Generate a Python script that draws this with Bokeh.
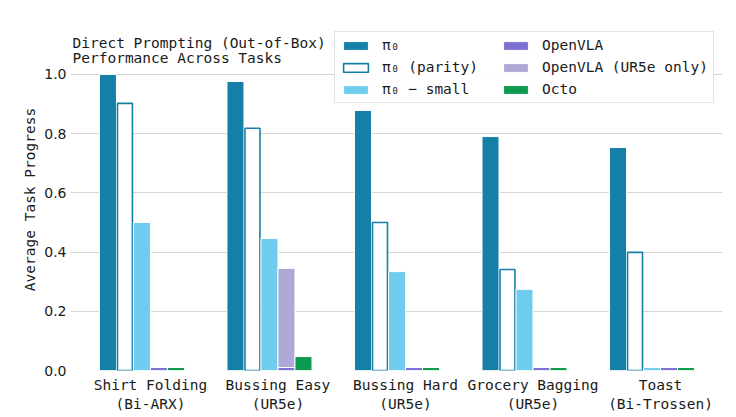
from bokeh.plotting import figure
from bokeh.models import ColumnDataSource, Range1d, FixedTicker, Legend, LegendItem, Label
from bokeh.transform import dodge
from bokeh.embed import file_html
from bokeh.resources import INLINE

# ---- data ----
tasks = ["Shirt Folding\n(Bi-ARX)", "Bussing Easy\n(UR5e)", "Bussing Hard\n(UR5e)",
         "Grocery Bagging\n(UR5e)", "Toast\n(Bi-Trossen)"]
pi0 = [1.0, 0.976, 0.878, 0.79, 0.753]
pi0_parity = [0.902, 0.818, 0.5, 0.341, 0.399]
pi0_small = [0.5, 0.446, 0.334, 0.274, 0.01]
openvla = [0.01, 0.01, 0.01, 0.01, 0.01]
openvla_ur5e = [float("nan"), 0.345, float("nan"), float("nan"), float("nan")]
octo = [0.01, 0.047, 0.01, 0.01, 0.01]
y_ticks = [0.0, 0.2, 0.4, 0.6, 0.8, 1.0]
title_lines = ["Direct Prompting (Out-of-Box)", "Performance Across Tasks"]

C_PI0 = "#167fa6"
C_SMALL = "#6ecdef"
C_OVLA = "#7b6fd3"
C_OVLA_UR = "#aea8d6"
C_OCTO = "#0b9a4f"

MONO = "DejaVu Sans Mono"
SANS = "DejaVu Sans"
FS = "14.5px"

src = ColumnDataSource(dict(
    x=list(range(len(tasks))), pi0=pi0, parity=pi0_parity, small=pi0_small,
    ovla=openvla, ovla_ur=openvla_ur5e, octo=octo))

W = 0.8 / 6

p = figure(width=736, height=417, output_backend="svg", toolbar_location=None,
           x_range=Range1d(-0.627, 4.486), y_range=Range1d(0, 1.155),
           min_border_left=70, min_border_right=14, min_border_top=28, min_border_bottom=47)
p.outline_line_color = None
p.background_fill_color = "white"
p.border_fill_color = "white"

r_pi0 = p.vbar(x=dodge("x", -2.5 * W), top="pi0", width=W, source=src,
               fill_color=C_PI0, line_color="white", line_width=1)
r_par = p.vbar(x=dodge("x", -1.5 * W), top="parity", width=W * 0.88, source=src,
               fill_color="white", line_color=C_PI0, line_width=1.6)
r_small = p.vbar(x=dodge("x", -0.5 * W), top="small", width=W, source=src,
                 fill_color=C_SMALL, line_color="white", line_width=1)
r_ovla_ur = p.vbar(x=dodge("x", 0.5 * W), top="ovla_ur", width=W, source=src,
                   fill_color=C_OVLA_UR, line_color="white", line_width=1)
r_ovla = p.vbar(x=dodge("x", 0.5 * W), top="ovla", width=W, source=src,
                fill_color=C_OVLA, line_color="white", line_width=1)
r_octo = p.vbar(x=dodge("x", 1.5 * W), top="octo", width=W, source=src,
                fill_color=C_OCTO, line_color="white", line_width=1)

# axes
p.xaxis.ticker = FixedTicker(ticks=list(range(len(tasks))))
p.xaxis.major_label_overrides = {i: t for i, t in enumerate(tasks)}
p.xaxis.major_label_text_font = MONO
p.xaxis.major_label_text_font_size = FS
p.xaxis.major_label_text_color = "#1a1a1a"
p.xaxis.axis_line_color = None
p.xaxis.major_tick_line_color = None
p.xaxis.minor_tick_line_color = None
p.xaxis.major_tick_out = 0
p.xaxis.major_tick_in = 0
p.xaxis.major_label_standoff = 6

p.yaxis.ticker = FixedTicker(ticks=y_ticks)
p.yaxis.major_label_overrides = {v: f"{v:.1f}" for v in y_ticks}
p.yaxis.major_label_text_font = SANS
p.yaxis.major_label_text_font_size = "14px"
p.yaxis.major_label_text_color = "#1a1a1a"
p.yaxis.axis_line_color = None
p.yaxis.major_tick_line_color = None
p.yaxis.minor_tick_line_color = None
p.yaxis.major_tick_out = 0
p.yaxis.major_tick_in = 0
p.yaxis.axis_label = "Average Task Progress"
p.yaxis.axis_label_text_font = MONO
p.yaxis.axis_label_text_font_size = FS
p.yaxis.axis_label_text_font_style = "normal"
p.yaxis.axis_label_text_color = "#1a1a1a"
p.yaxis.axis_label_standoff = 3
p.yaxis.major_label_standoff = 4

p.xgrid.grid_line_color = None
p.ygrid.grid_line_color = "#d6d6d6"
p.ygrid.grid_line_width = 1

# title (drawn inside the frame area above the 1.0 line)
for i, line in enumerate(title_lines):
    p.add_layout(Label(x=2, y=328 - 15 * i, x_units="screen", y_units="screen",
                       text=line, text_font=MONO, text_font_size=FS,
                       text_color="#1a1a1a", text_baseline="middle"))

legend = Legend(items=[
    LegendItem(label="π₀", renderers=[r_pi0]),
    LegendItem(label="π₀ (parity)", renderers=[r_par]),
    LegendItem(label="π₀ − small", renderers=[r_small]),
    LegendItem(label="OpenVLA", renderers=[r_ovla]),
    LegendItem(label="OpenVLA (UR5e only)", renderers=[r_ovla_ur]),
    LegendItem(label="Octo", renderers=[r_octo]),
], location=(264, 267), ncols=2)
legend.label_text_font = MONO
legend.label_text_font_size = FS
legend.label_text_color = "#1a1a1a"
legend.glyph_width = 31
legend.glyph_height = 11
legend.label_height = 16
legend.label_width = 112
legend.label_standoff = 11
legend.spacing = 6
legend.padding = 5
legend.margin = 0
legend.border_line_color = "#cccccc"
legend.border_line_width = 1
legend.background_fill_color = "white"
legend.background_fill_alpha = 0.9
p.add_layout(legend, "center")

open("out.html", "w").write(file_html(p, INLINE))
